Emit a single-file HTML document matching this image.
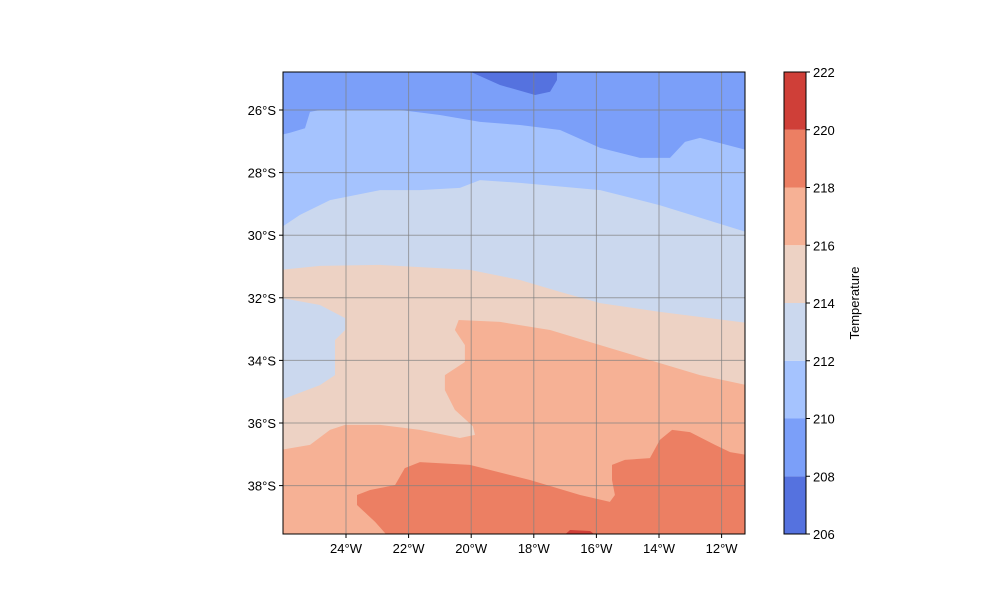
<!DOCTYPE html>
<html><head><meta charset="utf-8"><style>
body{margin:0;background:#fff;}
svg text{font-family:"Liberation Sans",sans-serif;font-size:13px;fill:#000;}
</style></head><body>
<svg id="chart" width="1000" height="600">
<defs><clipPath id="clip"><rect x="283" y="72" width="462" height="462"/></clipPath></defs>
<g id="fills" clip-path="url(#clip)"></g>
<g id="grid"></g>
<rect x="283" y="72" width="462" height="462" fill="none" stroke="#000" stroke-width="1"/>
<g id="axes"></g>
<g id="cbar"></g>
<text x="859" y="303" text-anchor="middle" transform="rotate(-90 859 303)">Temperature</text>
</svg>
<script>
const levels=[206,208,210,212,214,216,218,220,222];
const colors=["#5572df","#7b9ff9","#a5c3fe","#cbd8ee","#edd2c4","#f6b195","#ec7f63","#cf3f38"];
const lonTicks=[-24,-22,-20,-18,-16,-14,-12];
const latTicks=[-26,-28,-30,-32,-34,-36,-38];
const region206=[[-20.2,-24.7],[-19.08,-25.2],[-17.96,-25.52],[-17.48,-25.42],[-17.26,-25.04],[-17.26,-24.7]];
const region210=[[-26.1,-26.8],[-25.79,-26.73],[-25.31,-26.58],[-25.15,-26.06],[-24.83,-26],[-22.27,-26],[-21.0,-26.16],[-19.72,-26.38],[-18.44,-26.48],[-17.16,-26.64],[-15.88,-27.21],[-14.61,-27.53],[-13.65,-27.53],[-13.17,-27.02],[-12.69,-26.89],[-11.2,-27.28],[-11.2,-39.7],[-26.1,-39.7]];
const region212=[[-26.1,-29.77],[-25.47,-29.35],[-24.51,-28.88],[-22.91,-28.56],[-21.64,-28.56],[-20.36,-28.49],[-19.72,-28.24],[-18.44,-28.33],[-15.88,-28.56],[-13.97,-29.04],[-11.2,-29.9],[-11.2,-39.7],[-26.1,-39.7]];
const region214=[[-26.1,-31.11],[-24.83,-30.98],[-22.91,-30.95],[-21.64,-31.02],[-20.04,-31.11],[-18.44,-31.43],[-17.16,-31.81],[-15.88,-32.17],[-13.97,-32.45],[-11.2,-32.8],[-11.2,-39.7],[-26.1,-39.7]];
const pocket212=[[-26.1,-32.0],[-24.83,-32.23],[-24.03,-32.65],[-24.03,-33.03],[-24.35,-33.35],[-24.35,-34.47],[-24.83,-34.79],[-26.1,-35.27]];
const region216=[[-26.1,-36.86],[-25.15,-36.7],[-24.51,-36.22],[-24.03,-36.06],[-22.91,-36.06],[-21.64,-36.22],[-20.36,-36.48],[-19.88,-36.38],[-19.95,-36.1],[-20.52,-35.58],[-20.84,-34.95],[-20.84,-34.47],[-20.2,-34.05],[-20.2,-33.51],[-20.52,-33.03],[-20.4,-32.71],[-19.08,-32.77],[-17.48,-33.03],[-15.88,-33.51],[-14.29,-33.99],[-12.69,-34.47],[-11.2,-34.79],[-11.2,-39.7],[-26.1,-39.7]];
const region218=[[-23.65,-38.62],[-23.65,-38.3],[-23.23,-38.14],[-22.43,-37.98],[-22.12,-37.44],[-21.64,-37.25],[-20.04,-37.34],[-18.12,-37.82],[-16.52,-38.3],[-15.57,-38.52],[-15.41,-38.3],[-15.5,-37.82],[-15.5,-37.34],[-15.09,-37.18],[-14.29,-37.12],[-13.97,-36.54],[-13.58,-36.22],[-13.01,-36.29],[-12.21,-36.7],[-11.73,-36.93],[-11.2,-37.02],[-11.2,-39.7],[-22.59,-39.7],[-23.07,-39.16]];
const region220=[[-17.16,-39.7],[-16.84,-39.42],[-16.2,-39.45],[-15.88,-39.7]];
const layers=[[region206,0],[region210,2],[region212,3],[region214,4],[pocket212,3],[region216,5],[region218,6],[region220,7]];

const X=lon=>346+(lon+24)*31.3;
const Y=lat=>110+(-lat-26)*31.3;
const CB=v=>534-(v-206)/16*462;
const NS="http://www.w3.org/2000/svg";
function mk(tag,attrs,parent){const e=document.createElementNS(NS,tag);for(const k in attrs)e.setAttribute(k,attrs[k]);parent.appendChild(e);return e;}
const fills=document.getElementById('fills');
const bg=mk('rect',{x:283,y:72,width:462,height:462,fill:colors[1]},fills);


layers.forEach(([pts,ci])=>{
  const p=mk('polygon',{points:pts.map(q=>X(q[0]).toFixed(1)+','+Y(q[1]).toFixed(1)).join(' '),fill:colors[ci]},fills);
  
  
});
const grid=document.getElementById('grid'),axes=document.getElementById('axes');
lonTicks.forEach(l=>{
  const x=X(l);
  const g=mk('line',{x1:x,x2:x,y1:72,y2:534,stroke:'#808080','stroke-opacity':0.7,'stroke-width':1},grid);
  
  
  mk('line',{x1:x,x2:x,y1:534,y2:538,stroke:'#000'},axes);
  const t=mk('text',{x:x,y:553,'text-anchor':'middle'},axes);t.textContent=(-l)+'°W';
  
  
});
latTicks.forEach(l=>{
  const y=Y(l);
  const g=mk('line',{x1:283,x2:745,y1:y,y2:y,stroke:'#808080','stroke-opacity':0.7,'stroke-width':1},grid);
  
  
  mk('line',{x1:279,x2:283,y1:y,y2:y,stroke:'#000'},axes);
  const t=mk('text',{x:276,y:y+5,'text-anchor':'end'},axes);t.textContent=(-l)+'°S';
  
  
});
const cb=document.getElementById('cbar');
colors.forEach((c,i)=>{
  const r=mk('rect',{x:784,y:CB(levels[i+1]),width:22,height:CB(levels[i])-CB(levels[i+1]),fill:c},cb);
  
  
});
mk('rect',{x:784,y:72,width:22,height:462,fill:'none',stroke:'#000'},cb);
levels.forEach(v=>{
  const y=CB(v);
  mk('line',{x1:806,x2:810,y1:y,y2:y,stroke:'#000'},cb);
  const t=mk('text',{x:813,y:y+5},cb);t.textContent=v;
  
  
});
</script>
</body></html>
